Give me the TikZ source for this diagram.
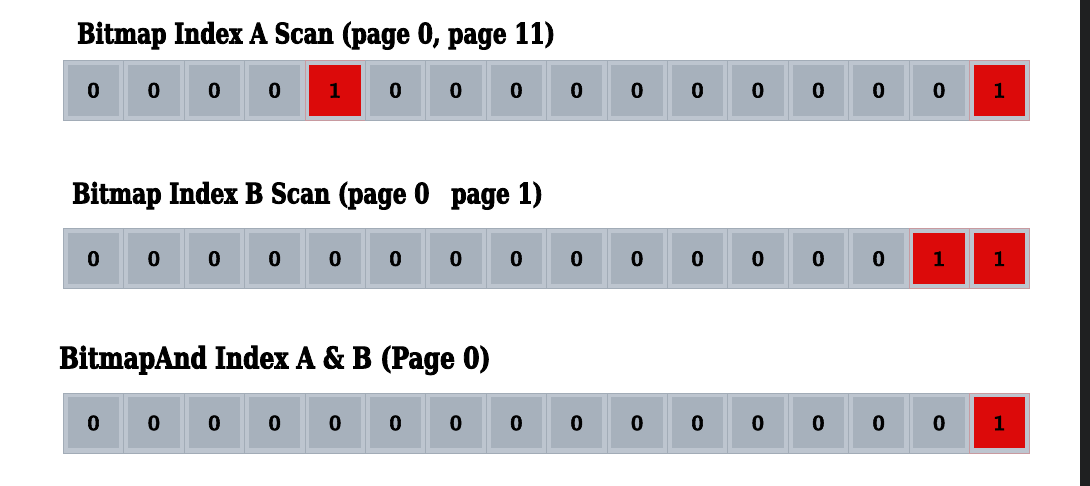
\documentclass[tikz,border=0pt]{standalone}
\usepackage{fontspec}
\usepackage{xcolor}
\newfontfamily\headfont[BoldFeatures={FakeBold=3.5}]{DejaVu Serif}
\newfontfamily\bitfont[Numbers=OldStyle, BoldFeatures={FakeBold=2.5}]{Latin Modern Roman}
\definecolor{cellout}{HTML}{BDC5CF}
\definecolor{cellin}{HTML}{A7B1BC}
\definecolor{cellline}{HTML}{A2ACB7}
\definecolor{bitred}{HTML}{DC0A0A}
\definecolor{redline}{HTML}{C89AA0}
\definecolor{edgedark}{HTML}{1F2021}
\newcommand\tallbit[1]{\scalebox{1}[1.4]{#1}}
\tikzset{
  title/.style={anchor=base west, inner sep=0pt, font=\headfont\bfseries\fontsize{28}{30}\selectfont, xscale=0.78, transform shape},
  bitcell/.style={draw=cellline, line width=0.8pt, fill=cellout, minimum width=60.4, minimum height=60,
    inner sep=0pt, outer sep=0pt, font=\bitfont\bfseries\fontsize{22}{22}\selectfont,
    path picture={\fill[#1] ([shift={(4.5pt,-4.5pt)}]path picture bounding box.north west) rectangle ([shift={(-4.5pt,4.5pt)}]path picture bounding box.south east);}},
  zerocell/.style={bitcell=cellin},
  onecell/.style={bitcell=bitred, draw=redline},
}
\begin{document}
\begin{tikzpicture}[x=1pt,y=1pt]
  \useasboundingbox (0,0) rectangle (1090,486);
  \fill[white] (0,0) rectangle (1080,486);
  \fill[edgedark] (1080,0) rectangle (1090,486);
  % titles
  \node[title] (titleA) at (77,442.7) {Bitmap Index A Scan (page 0, page 11)};
  \node[title] (titleB) at (72,282.7) {Bitmap Index B Scan (page 0\quad page 1)};
  \node[title, font=\headfont\bfseries\fontsize{29.5}{31}\selectfont, xscale=1.02] (titleC) at (59,117.7) {BitmapAnd Index A \& B (Page 0)};
  % bit rows
  \foreach \row/\ypos/\bits in {A/395.7/{0,0,0,0,1,0,0,0,0,0,0,0,0,0,0,1},
                                B/227.3/{0,0,0,0,0,0,0,0,0,0,0,0,0,0,1,1},
                                C/63/{0,0,0,0,0,0,0,0,0,0,0,0,0,0,0,1}} {
    \foreach \b [count=\i] in \bits {
      \ifnum\b=1 \def\cellstyle{onecell}\else\def\cellstyle{zerocell}\fi
      \node[\cellstyle] (cell\row\i) at ({93.5+60.4*(\i-1)},\ypos) {\tallbit{\b}};
    }
  }
\end{tikzpicture}
\end{document}
